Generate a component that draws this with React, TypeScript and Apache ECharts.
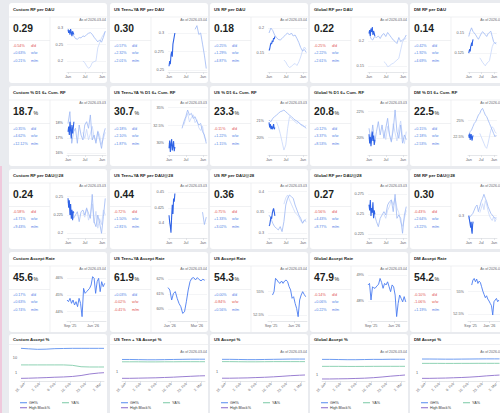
import React, { useEffect, useRef } from "react";
import * as echarts from "echarts";

const FONT = '"Liberation Sans", Arial, Helvetica, sans-serif';

const COL_X = [9, 110, 210, 310, 410];
const ROW_Y = [3, 86, 169, 252, 334];
const CARD_W = 98;
const CARD_H = [80, 80, 80, 80, 92];

// ---------- titles ----------
const TITLES_RF = ["Custom RF per DAU", "US Teen+YA RF per DAU", "US RF per DAU", "Global RF per DAU", "DM RF per DAU"];
const TITLES_CUM = ["Custom % D1 6+ Cum. RF", "US Teen+YA % D1 6+ Cum. RF", "US % D1 6+ Cum. RF", "Global % D1 6+ Cum. RF", "DM % D1 6+ Cum. RF"];
const TITLES_RF28 = ["Custom RF per DAU@28", "US Teen+YA RF per DAU@28", "US RF per DAU@28", "Global RF per DAU@28", "DM RF per DAU@28"];
const TITLES_ACC = ["Custom Accept Rate", "US Teen+YA Accept Rate", "US Accept Rate", "Global Accept Rate", "DM Accept Rate"];
const TITLES_PCT = ["Custom Accept %", "US Teen + YA Accept %", "US Accept %", "Global Accept %", "DM Accept %"];

// ---------- KPI values ----------
const VALUES_RF = ["0.29", "0.30", "0.18", "0.22", "0.14"];
const VALUES_CUM = ["18.7", "30.7", "23.3", "20.8", "22.5"];
const VALUES_RF28 = ["0.24", "0.44", "0.36", "0.27", "0.30"];
const VALUES_ACC = ["45.6", "61.9", "54.3", "47.9", "54.2"];

// [d/d, w/w, m/m] in %
const DELTAS_RF = [[-0.54, 0.63, 0.21], [0.57, 2.32, 2.01], [0.25, 1.29, 4.87], [-0.25, 2.22, 2.61], [0.42, 1.92, 4.69]];
const DELTAS_CUM = [[0.35, 4.62, 12.12], [0.18, 2.1, 1.87], [-0.11, 1.22, 1.15], [0.12, 3.37, 8.53], [0.15, 2.18, 2.53]];
const DELTAS_RF28 = [[-0.58, 4.71, 9.43], [-0.72, 1.5, 2.81], [-0.75, 1.33, 3.02], [-0.56, 4.43, 8.77], [-0.43, 2.64, 3.22]];
const DELTAS_ACC = [[0.17, 0.63, 0.74], [0.03, -0.02, -0.41], [0.0, -0.84, 0.56], [-0.14, 0.06, 0.22], [-0.1, -1.06, 1.19]];
const DELTA_LABELS = ["d/d", "w/w", "m/m"];

const AS_OF_RF = ["2026-03-04", "2026-03-04", "2026-03-04", "2026-03-04", "2026-03-04"];
const AS_OF_CUM = ["2026-03-03", "2026-03-03", "2026-03-03", "2026-03-03", "2026-03-03"];
const AS_OF_RF28 = ["2026-03-03", "2026-03-03", "2026-03-03", "2026-03-03", "2026-03-03"];
const AS_OF_ACC = ["2026-03-04", "2026-03-04", "2026-03-04", "2026-03-04", "2026-03-04"];
const AS_OF_PCT = ["", "2026-03-04", "2026-03-04", "2026-03-04", "2026-03-04"];

// ---------- sparkline axes ----------
const SPARK_X_TICKS = [0, 181, 365];
const SPARK_X_LABELS = ["Jan", "Jul", "Jan"];
const ACC_X_TICKS = [0, 122];
const ACC_X_LABELS = ["Sep '25", "Jan '26"];
const ACC_X_TICKS_TEEN = [0, 59];
const ACC_X_LABELS_TEEN = ["Jan '26", "Mar '26"];
const PCT_X_TICKS = [0, 7, 14, 21, 28, 35];
const PCT_X_LABELS = ["26. Jan", "2. Feb", "9. Feb", "16. Feb", "23. Feb", "2. Mar"];

const Y_RANGE_RF = [[0.1667, 0.3121], [0.2473, 0.3122], [0.112, 0.208], [0.138, 0.234], [0.1013, 0.1613]];
const Y_TICKS_RF = [[0.2, 0.25, 0.3], [0.25, 0.275, 0.3], [0.15, 0.2], [0.15, 0.2], [0.125, 0.15]];
const Y_RANGE_CUM = [[15.89, 19.09], [28.36, 35.1], [18.98, 21.81], [18.74, 22.35], [19.64, 27.14]];
const Y_TICKS_CUM = [[16, 17, 18], [30, 32.5, 35], [20, 21], [20, 22], [22.5, 25]];
const Y_RANGE_RF28 = [[0.1936, 0.2592], [0.3763, 0.4537], [0.2887, 0.404], [0.2204, 0.2804], [0.2628, 0.3428]];
const Y_TICKS_RF28 = [[0.2, 0.225, 0.25], [0.4, 0.425, 0.45], [0.3, 0.35, 0.4], [0.225, 0.25, 0.275], [0.3]];
const Y_RANGE_ACC = [[43.44, 46.32], [59.2, 62.42], [51.86, 57.0], [47.23, 49.08], [51.72, 57.1]];
const Y_TICKS_ACC = [[44, 45, 46], [60, 61, 62], [52.5, 55], [48, 49], [52.5, 55]];
const Y_RANGE_PCT = [[0.28, 70], [0.286, 9.5], [0.32, 9.5], [0.51, 9.5], [0.39, 9.5]];

// ---------- series data ----------
// cur: 2026 YTD, every 7 days from Jan 1; prev/old: every 20 days from Jan 1 (null = no data)
const N = null;
const RF_CUSTOM_CUR = [0.295, 0.285, 0.293, 0.28, 0.297, 0.287, 0.275, 0.29, 0.285, 0.28];
const RF_CUSTOM_PREV = [0.297, 0.29, 0.283, 0.277, 0.268, 0.266, 0.271, 0.27, 0.276, 0.274, 0.28, 0.284, 0.286, 0.281, 0.272, 0.265, 0.258, 0.264, 0.257, 0.272, 0.29];
const RF_CUSTOM_OLD = [N, N, N, N, N, N, N, N, 0.2, 0.195, 0.185, 0.178, 0.182, 0.195, 0.198, 0.2, 0.24, 0.255, 0.27, 0.28, 0.29];
const RF_TEEN_CUR = [0.255, 0.262, 0.258, 0.27, 0.275, 0.268, 0.285, 0.29, 0.295, 0.3];
const RF_TEEN_PREV = [N, N, N, N, N, N, N, N, N, N, N, N, N, N, 0.305, 0.31, 0.298, 0.3, 0.285, 0.27, 0.252];
const RF_TEEN_OLD: (number | null)[] = [];
const RF_US_CUR = [0.155, 0.158, 0.165, 0.17, 0.168, 0.175, 0.172, 0.18, 0.178, 0.183];
const RF_US_PREV = [0.19, 0.2, 0.195, 0.186, 0.181, 0.177, 0.176, 0.179, 0.183, 0.187, 0.19, 0.186, 0.19, 0.184, 0.186, 0.179, 0.171, 0.161, 0.154, 0.157, 0.151];
const RF_US_OLD = [N, N, N, N, N, N, N, N, 0.136, 0.132, 0.125, 0.121, 0.123, 0.127, 0.129, 0.125, 0.132, 0.142, 0.155, 0.162, 0.157];
const RF_GLOBAL_CUR = [0.215, 0.222, 0.21, 0.225, 0.218, 0.228, 0.212, 0.22, 0.215, 0.21];
const RF_GLOBAL_PREV = [0.219, 0.205, 0.202, 0.209, 0.207, 0.21, 0.205, 0.212, 0.215, 0.209, 0.217, 0.212, 0.207, 0.202, 0.199, 0.195, 0.207, 0.199, 0.202, 0.205, 0.212];
const RF_GLOBAL_OLD = [N, N, N, N, N, N, N, N, 0.1587, 0.1553, 0.1487, 0.15, 0.154, 0.1553, 0.1587, 0.162, 0.1653, 0.182, 0.1987, 0.2033, 0.2053];
const RF_DM_CUR = [0.125, 0.128, 0.13, 0.127, 0.133, 0.135, 0.138, 0.134, 0.14, 0.142];
const RF_DM_PREV = [0.1457, 0.1522, 0.1565, 0.1522, 0.15, 0.1478, 0.1448, 0.1422, 0.1457, 0.1491, 0.1517, 0.15, 0.1478, 0.1457, 0.1491, 0.1509, 0.1522, 0.1457, 0.1392, 0.137, 0.1379];
const RF_DM_OLD = [N, N, N, N, N, N, N, N, 0.119, 0.1164, 0.1134, 0.1112, 0.109, 0.1121, 0.1134, 0.1155, 0.1241, 0.1328, 0.137, 0.1379, 0.1362];

const CUM_CUSTOM_CUR = [17.44, 17.78, 17.22, 18.11, 17.56, 17.0, 17.89, 17.33, 17.67, 18.11];
const CUM_CUSTOM_PREV = [18.0, 18.78, 16.67, 17.44, 17.67, 16.67, 17.89, 17.22, 16.89, 17.89, 18.11, 17.67, 18.56, 16.89, 17.22, 16.67, 17.44, 16.89, 16.33, 17.22, 17.67];
const CUM_CUSTOM_OLD = [N, N, N, N, N, N, N, N, 17.4, 17.0, 17.6, 16.9, 17.3, 17.8, 17.1, 16.8, 17.5, 17.2, 16.6, 17.0, 17.4];
const CUM_TEEN_CUR = [29.3, 30.4, 28.8, 29.9, 30.6, 29.0, 29.6, 30.3, 28.9, 29.5];
const CUM_TEEN_PREV = [N, N, N, N, N, N, N, 32.1, 33.04, 33.74, 34.67, 33.97, 34.21, 33.5, 33.74, 33.04, 32.57, 32.8, 31.64, 31.17, 30.0];
const CUM_TEEN_OLD = [N, N, N, N, N, N, N, N, 32.6, 33.5, 34.2, 33.0, 33.6, 34.0, 32.9, 33.3, 32.2, 31.8, 32.4, 30.9, 30.4];
const CUM_US_CUR = [20.9, 20.6, 20.8, 20.5, 20.7, 20.5, 20.6, 20.8, 20.5, 20.6];
const CUM_US_PREV = [21.04, 20.94, 21.14, 21.24, 21.33, 21.43, 21.53, 21.57, 21.63, 21.53, 21.43, 21.33, 21.24, 21.14, 21.04, 20.98, 20.9, 20.78, 20.71, 20.65, 20.55];
const CUM_US_OLD = [N, N, N, N, 20.94, 20.65, 20.25, 19.76, 19.27, 19.57, 20.55, 21.24, 21.14, 21.04, 20.94, 20.84, 20.9, 20.78, 20.75, 20.65, 20.71];
const CUM_GLOBAL_CUR = [20.3, 19.6, 20.1, 19.4, 20.0, 20.5, 19.8, 20.2, 19.5, 19.9];
const CUM_GLOBAL_PREV = [20.75, 19.88, 21.0, 19.63, 20.5, 21.25, 20.25, 21.0, 20.0, 20.75, 21.5, 20.25, 19.75, 20.63, 22.13, 20.5, 20.0, 21.0, 19.63, 20.25, 19.88];
const CUM_GLOBAL_OLD = [N, N, N, N, N, N, N, N, 20.6, 19.9, 20.9, 20.3, 19.7, 21.1, 20.4, 19.8, 20.7, 21.3, 20.1, 19.6, 20.5];
const CUM_DM_CUR = [22.8, 22.3, 23.0, 22.0, 22.6, 22.9, 22.2, 21.9, 22.5, 22.7];
const CUM_DM_PREV = [22.76, 23.28, 23.54, 24.06, 24.58, 24.84, 25.36, 25.89, 26.15, 26.67, 26.93, 26.41, 25.89, 25.63, 25.1, 24.58, 24.06, 23.54, 23.02, 22.5, 22.76];
const CUM_DM_OLD = [N, N, N, N, N, N, N, N, 23.02, 22.5, 21.98, 21.46, 20.94, 20.68, 21.46, 22.5, 23.54, 24.06, 23.8, 23.28, 23.02];

const RF28_CUSTOM_CUR = [0.248, 0.235, 0.245, 0.225, 0.24, 0.22, 0.232, 0.218, 0.23, 0.228];
const RF28_CUSTOM_PREV = [0.2432, 0.2341, 0.2273, 0.2205, 0.225, 0.2295, 0.2159, 0.2295, 0.2318, 0.225, 0.2341, 0.2273, 0.2205, 0.2532, 0.2159, 0.2091, 0.225, 0.2136, 0.2, 0.2227, 0.2477];
const RF28_CUSTOM_OLD = [N, N, N, N, N, N, N, N, 0.228, 0.222, 0.235, 0.218, 0.226, 0.24, 0.214, 0.23, 0.207, 0.22, 0.212, 0.232, 0.225];
const RF28_TEEN_CUR = [0.413, 0.402, 0.395, 0.385, 0.41, 0.43, 0.415, 0.44, 0.435, 0.448];
const RF28_TEEN_PREV = [N, N, N, N, N, N, N, N, N, N, N, N, N, N, N, N, N, N, 0.418, 0.398, 0.41];
const RF28_TEEN_OLD: (number | null)[] = [];
const RF28_US_CUR = [0.318, 0.32, 0.33, 0.34, 0.335, 0.348, 0.355, 0.36, 0.352, 0.342];
const RF28_US_PREV = [0.344, 0.336, 0.324, 0.316, 0.312, 0.308, 0.316, 0.304, 0.328, 0.368, 0.384, 0.392, 0.388, 0.384, 0.368, 0.356, 0.344, 0.336, 0.324, 0.332, 0.328];
const RF28_US_OLD = [N, N, N, N, N, N, N, N, 0.37, 0.385, 0.392, 0.38, 0.37, 0.36, 0.35, 0.345, 0.34, 0.33, 0.325, 0.33, 0.335];
const RF28_GLOBAL_CUR = [0.262, 0.255, 0.268, 0.248, 0.258, 0.252, 0.265, 0.245, 0.255, 0.25];
const RF28_GLOBAL_PREV = [0.2617, 0.2575, 0.2533, 0.2492, 0.2408, 0.2346, 0.245, 0.2492, 0.2533, 0.2492, 0.2617, 0.2658, 0.2679, 0.2533, 0.275, 0.245, 0.2492, 0.245, 0.2263, 0.2492, 0.2596];
const RF28_GLOBAL_OLD = [N, N, N, N, N, N, N, N, 0.25, 0.245, 0.255, 0.26, 0.268, 0.262, 0.27, 0.258, 0.252, 0.24, 0.235, 0.245, 0.255];
const RF28_DM_CUR = [0.3, 0.295, 0.29, 0.285, 0.28, 0.29, 0.275, 0.27, 0.285, 0.29];
const RF28_DM_PREV = [0.2956, 0.2983, 0.3011, 0.3039, 0.3094, 0.315, 0.3178, 0.3067, 0.315, 0.3233, 0.3289, 0.3356, 0.3289, 0.3233, 0.315, 0.3094, 0.3039, 0.3011, 0.2983, 0.2956, 0.2967];
const RF28_DM_OLD = [N, N, N, N, N, N, N, N, 0.305, 0.312, 0.32, 0.31, 0.325, 0.318, 0.308, 0.3, 0.295, 0.292, 0.298, 0.29, 0.295];

// Accept rate: [start day, step days] and values (day 0 = Sep 1 2025; teen: day 0 = Jan 1 2026)
const ACC_CUSTOM = [44.7, 44.6, 44.8, 44.5, 44.7, 44.4, 44.6, 44.3, 44.8, 44.5, 43.7, 45.4, 45.1, 45.2, 45.3, 45.4, 45.6, 46.1, 46.0, 45.1, 45.8, 46.0, 45.2, 45.8, 45.5, 45.7];
const ACC_TEEN = [61.44, 61.28, 60.61, 61.06, 61.17, 60.72, 60.38, 60.16, 59.71, 59.82, 60.49, 61.28, 61.84, 62.07, 62.11, 61.96, 62.11, 61.98, 61.89, 62.0, 61.93];
const ACC_US = [54.64, 55.0, 56.43, 56.25, 56.0, 55.89, 56.14, 55.89, 56.14, 56.25, 56.07, 55.54, 55.18, 54.29, 54.46, 53.75, 53.21, 52.32, 54.11, 54.64, 55.0, 54.71, 54.46];
const ACC_GLOBAL = [48.62, 48.68, 48.04, 48.55, 48.49, 48.51, 48.59, 48.64, 48.87, 48.72, 48.49, 48.68, 48.62, 48.74, 48.55, 48.36, 48.62, 48.55, 48.23, 47.4, 47.91, 48.23, 48.1, 47.97, 48.17, 47.97];
const ACC_DM = [55.75, 56.31, 56.49, 56.12, 56.42, 55.93, 56.19, 56.04, 55.56, 55.07, 54.7, 54.33, 54.55, 54.18, 53.96, 53.69, 53.43, 52.39, 53.88, 54.07, 54.25, 53.88, 54.07];
const ACC_START = [-16, -4, 8, -16, 8];
const ACC_STEP = [8, 4, 8, 8, 8];

// Accept % (days from 26 Jan 2026)
const PCT_DAYS = [-1.5, 2, 6, 10, 14, 18, 22, 26, 30, 34, 36.5];
const PCT_NAMES = ["GH%", "YA%", "High Block%"];
const PCT_COLORS = ["#6f9df2", "#8fd2b4", "#9a7fd2"];
const GH_PCT = [
  [42, 39, 36, 37, 40, 41, 42, 42, 42, 42, 42],
  [5.2, 5.2, 5.1, 5.0, 5.0, 5.1, 5.2, 5.3, 5.4, 5.4, 5.4],
  [5.4, 5.4, 5.3, 5.2, 5.2, 5.3, 5.4, 5.5, 5.6, 5.6, 5.6],
  [5.8, 5.8, 5.7, 5.6, 5.6, 5.7, 5.8, 5.8, 5.9, 5.9, 5.9],
  [5.8, 5.8, 5.75, 5.7, 5.7, 5.75, 5.8, 5.85, 5.9, 5.9, 5.9],
];
const YA_PCT = [
  [3.3, 3.3, 3.3, 3.3, 3.3, 3.3, 3.1, 2.5, 2.4, 2.4, 2.4],
  [3.8, 3.8, 3.8, 3.75, 3.75, 3.8, 3.8, 3.85, 3.85, 3.85, 3.85],
  [4.0, 4.0, 3.95, 3.9, 3.9, 3.95, 4.0, 4.0, 4.0, 4.0, 4.0],
  [2.65, 2.65, 2.65, 2.62, 2.62, 2.63, 2.65, 2.66, 2.66, 2.66, 2.66],
  [3.4, 3.4, 3.4, 3.38, 3.38, 3.4, 3.4, 3.42, 3.42, 3.42, 3.42],
];
const HB_PCT = [
  [0.42, 0.43, 0.45, 0.47, 0.5, 0.52, 0.56, 0.65, 0.82, 0.95, 1.0],
  [0.41, 0.41, 0.42, 0.43, 0.44, 0.46, 0.48, 0.51, 0.54, 0.57, 0.58],
  [0.46, 0.46, 0.47, 0.48, 0.5, 0.52, 0.55, 0.59, 0.64, 0.68, 0.7],
  [0.64, 0.64, 0.65, 0.66, 0.68, 0.7, 0.74, 0.8, 0.88, 0.95, 1.0],
  [0.54, 0.54, 0.55, 0.56, 0.58, 0.6, 0.63, 0.67, 0.73, 0.78, 0.81],
];

const SPARK_ROWS = [
  { titles: TITLES_RF, values: VALUES_RF, deltas: DELTAS_RF, asOf: AS_OF_RF, range: Y_RANGE_RF, ticks: Y_TICKS_RF, pct: false,
    data: [[RF_CUSTOM_CUR, RF_CUSTOM_PREV, RF_CUSTOM_OLD], [RF_TEEN_CUR, RF_TEEN_PREV, RF_TEEN_OLD], [RF_US_CUR, RF_US_PREV, RF_US_OLD], [RF_GLOBAL_CUR, RF_GLOBAL_PREV, RF_GLOBAL_OLD], [RF_DM_CUR, RF_DM_PREV, RF_DM_OLD]] },
  { titles: TITLES_CUM, values: VALUES_CUM, deltas: DELTAS_CUM, asOf: AS_OF_CUM, range: Y_RANGE_CUM, ticks: Y_TICKS_CUM, pct: true,
    data: [[CUM_CUSTOM_CUR, CUM_CUSTOM_PREV, CUM_CUSTOM_OLD], [CUM_TEEN_CUR, CUM_TEEN_PREV, CUM_TEEN_OLD], [CUM_US_CUR, CUM_US_PREV, CUM_US_OLD], [CUM_GLOBAL_CUR, CUM_GLOBAL_PREV, CUM_GLOBAL_OLD], [CUM_DM_CUR, CUM_DM_PREV, CUM_DM_OLD]] },
  { titles: TITLES_RF28, values: VALUES_RF28, deltas: DELTAS_RF28, asOf: AS_OF_RF28, range: Y_RANGE_RF28, ticks: Y_TICKS_RF28, pct: false,
    data: [[RF28_CUSTOM_CUR, RF28_CUSTOM_PREV, RF28_CUSTOM_OLD], [RF28_TEEN_CUR, RF28_TEEN_PREV, RF28_TEEN_OLD], [RF28_US_CUR, RF28_US_PREV, RF28_US_OLD], [RF28_GLOBAL_CUR, RF28_GLOBAL_PREV, RF28_GLOBAL_OLD], [RF28_DM_CUR, RF28_DM_PREV, RF28_DM_OLD]] },
];
const ACC_DATA = [ACC_CUSTOM, ACC_TEEN, ACC_US, ACC_GLOBAL, ACC_DM];

const C_TEXT = "#1d1f23";
const C_MUTED = "#5f646b";
const C_RED = "#e0524d";
const C_BLUE = "#4f7fe6";
const C_DIV = "#e5e7eb";
const C_AXIS = "#d3d6dc";

function fmtNum(v: number) {
  return String(parseFloat(Number(v).toFixed(4)));
}
function fmtDelta(v: number) {
  return (v >= 0 ? "+" : "") + v.toFixed(2) + "%";
}
function pts(arr: (number | null)[], start: number, step: number) {
  const out: [number, number][] = [];
  arr.forEach((v, i) => {
    if (v !== null && v !== undefined) out.push([start + i * step, v]);
  });
  return out;
}

function buildOption() {
  const grids: any[] = [];
  const xAxes: any[] = [];
  const yAxes: any[] = [];
  const series: any[] = [];
  const els: any[] = [];
  const labelBase = { fontSize: 3.8, color: C_MUTED, fontFamily: FONT };

  const text = (x: number, y: number, t: string, o: any = {}) =>
    els.push({ type: "text", x, y, z: 10, silent: true, style: { text: t, fontFamily: FONT, fontSize: 3.8, fill: C_TEXT, align: "left", verticalAlign: "middle", ...o } });
  const line = (x1: number, y1: number, x2: number, y2: number, color = C_DIV, w = 0.6) =>
    els.push({ type: "line", z: 10, silent: true, shape: { x1, y1, x2, y2 }, style: { stroke: color, lineWidth: w } });

  // pink strip at left
  els.push({ type: "rect", z: -20, silent: true, shape: { x: 0, y: 166, width: 2, height: 250 }, style: { fill: "#efc9dc" } });

  const addCardFrame = (r: number, c: number, title: string) => {
    const cx = COL_X[c];
    const cy = ROW_Y[r];
    els.push({ type: "rect", z: -10, silent: true, shape: { x: cx, y: cy, width: CARD_W, height: CARD_H[r], r: 3 }, style: { fill: "#ffffff" } });
    text(cx + 4, cy + (r === 4 ? 5.5 : 6.5), title, { fontSize: 4.3, fontWeight: "bold" });
  };

  const addKpi = (r: number, c: number, value: string, pct: boolean, deltas: number[], asOf: string) => {
    const cx = COL_X[c];
    const cy = ROW_Y[r];
    line(cx, cy + 14, cx + CARD_W, cy + 14);
    line(cx + 41, cy + 14, cx + 41, cy + 80);
    line(cx, cy + 37.5, cx + 41, cy + 37.5);
    els.push({
      type: "text", x: cx + 4, y: cy + 24, z: 10, silent: true,
      style: {
        text: pct ? `{v|${value}}{u|%}` : `{v|${value}}`,
        align: "left", verticalAlign: "middle",
        rich: {
          v: { fontFamily: FONT, fontSize: 10.3, fontWeight: "bold", fill: C_TEXT, lineHeight: 12, verticalAlign: "bottom" },
          u: { fontFamily: FONT, fontSize: 5.2, fill: C_TEXT, lineHeight: 12, verticalAlign: "bottom", padding: [0, 0, 1, 0.5] },
        },
      },
    });
    const ys = [43, 50, 57.5];
    deltas.forEach((d, i) => {
      const col = d >= 0 ? C_BLUE : C_RED;
      text(cx + 4, cy + ys[i], fmtDelta(d), { fontSize: 3.7, fill: col });
      text(cx + 22, cy + ys[i], DELTA_LABELS[i], { fontSize: 3.7, fill: col });
    });
    if (asOf) text(cx + 97, cy + 17, "As of " + asOf, { fontSize: 3.5, fill: C_MUTED, align: "right" });
  };

  const addSparkAxes = (gi: number, r: number, c: number, xMin: number, xMax: number, xTicks: number[], xLabels: string[], yMin: number, yMax: number, yTicks: number[], pct: boolean) => {
    grids.push({ left: COL_X[c] + 58, top: ROW_Y[r] + 21, width: 39, height: 48 });
    xAxes.push({
      type: "value", gridIndex: gi, min: xMin, max: xMax,
      axisLine: { show: true, lineStyle: { color: C_AXIS, width: 0.6 } },
      axisTick: { show: true, customValues: xTicks, length: 2, lineStyle: { color: C_AXIS, width: 0.6 } },
      splitLine: { show: false },
      axisLabel: { ...labelBase, customValues: xTicks, margin: 3, formatter: (v: number) => { const k = xTicks.indexOf(v); return k >= 0 ? xLabels[k] : ""; } },
    });
    yAxes.push({
      type: "value", gridIndex: gi, min: yMin, max: yMax,
      axisLine: { show: false },
      axisTick: { show: false, customValues: yTicks },
      splitLine: { show: true, lineStyle: { color: "#eceef2", width: 0.6 } },
      axisLabel: { ...labelBase, customValues: yTicks, margin: 4, formatter: (v: number) => fmtNum(v) + (pct ? "%" : "") },
    });
  };

  let gi = 0;
  // rows 1-3: sparklines
  SPARK_ROWS.forEach((row, r) => {
    for (let c = 0; c < 5; c++) {
      addCardFrame(r, c, row.titles[c]);
      addKpi(r, c, row.values[c], row.pct, row.deltas[c], row.asOf[c]);
      addSparkAxes(gi, r, c, -11, 408, SPARK_X_TICKS, SPARK_X_LABELS, row.range[c][0], row.range[c][1], row.ticks[c], row.pct);
      const [cur, prev, old] = row.data[c];
      const base = { type: "line", xAxisIndex: gi, yAxisIndex: gi, showSymbol: false, symbol: "none", silent: true };
      if (old.length) series.push({ ...base, data: pts(old, 0, 20), lineStyle: { color: "#c8d7fa", width: 0.8 }, z: 2 });
      series.push({ ...base, data: pts(prev, 0, 20), lineStyle: { color: "#9db8f4", width: 0.8 }, z: 3 });
      series.push({ ...base, data: pts(cur, 0, 7), lineStyle: { color: "#2f63e6", width: 1.1 }, z: 4 });
      gi++;
    }
  });

  // row 4: accept rate
  for (let c = 0; c < 5; c++) {
    const r = 3;
    addCardFrame(r, c, TITLES_ACC[c]);
    addKpi(r, c, VALUES_ACC[c], true, DELTAS_ACC[c], AS_OF_ACC[c]);
    const teen = c === 1;
    addSparkAxes(gi, r, c, teen ? -4 : -16, teen ? 81 : 191, teen ? ACC_X_TICKS_TEEN : ACC_X_TICKS, teen ? ACC_X_LABELS_TEEN : ACC_X_LABELS, Y_RANGE_ACC[c][0], Y_RANGE_ACC[c][1], Y_TICKS_ACC[c], true);
    series.push({ type: "line", xAxisIndex: gi, yAxisIndex: gi, showSymbol: false, symbol: "none", silent: true, data: pts(ACC_DATA[c], ACC_START[c], ACC_STEP[c]), lineStyle: { color: "#4a7cf0", width: 0.9 }, z: 3 });
    gi++;
  }

  // row 5: accept %
  for (let c = 0; c < 5; c++) {
    const r = 4;
    const cx = COL_X[c];
    const cy = ROW_Y[r];
    addCardFrame(r, c, TITLES_PCT[c]);
    line(cx, cy + 10.5, cx + CARD_W, cy + 10.5);
    if (AS_OF_PCT[c]) text(cx + 97, cy + 18, "As of " + AS_OF_PCT[c], { fontSize: 3.5, fill: C_MUTED, align: "right" });
    const top = cy + (c === 0 ? 11 : 21);
    grids.push({ left: cx + 12, top, width: 83, height: cy + 47 - top });
    xAxes.push({
      type: "value", gridIndex: gi, min: -1.5, max: 36.5,
      axisLine: { show: true, lineStyle: { color: C_AXIS, width: 0.6 } },
      axisTick: { show: true, customValues: PCT_X_TICKS, length: 2, lineStyle: { color: C_AXIS, width: 0.6 } },
      splitLine: { show: false },
      axisLabel: { ...labelBase, fontSize: 3.6, customValues: PCT_X_TICKS, rotate: 45, margin: 2.5, formatter: (v: number) => { const k = PCT_X_TICKS.indexOf(v); return k >= 0 ? PCT_X_LABELS[k] : ""; } },
    });
    yAxes.push({
      type: "log", logBase: 10, gridIndex: gi, min: Y_RANGE_PCT[c][0], max: Y_RANGE_PCT[c][1],
      axisLine: { show: false }, axisTick: { show: false }, splitLine: { show: false },
      axisLabel: { ...labelBase, margin: 4, formatter: (v: number) => { const l = Math.log10(v); return Math.abs(l - Math.round(l)) < 1e-6 ? String(Math.round(v)) : ""; } },
    });
    const sets = [GH_PCT[c], YA_PCT[c], HB_PCT[c]];
    sets.forEach((vals, k) => {
      series.push({ type: "line", name: PCT_NAMES[k], xAxisIndex: gi, yAxisIndex: gi, showSymbol: false, symbol: "none", silent: true, data: vals.map((v, i) => [PCT_DAYS[i], v]), lineStyle: { color: PCT_COLORS[k], width: 1 }, z: 3 });
    });
    // legend
    const ly1 = cy + 68.7;
    const ly2 = cy + 73.7;
    const legendItems = [
      { x: cx + 11, y: ly1, k: 0 },
      { x: cx + 53, y: ly1, k: 1 },
      { x: cx + 11, y: ly2, k: 2 },
    ];
    legendItems.forEach((it) => {
      line(it.x, it.y, it.x + 7, it.y, PCT_COLORS[it.k], 1.2);
      text(it.x + 9, it.y, PCT_NAMES[it.k], { fontSize: 3.7, fill: "#333" });
    });
    gi++;
  }

  return {
    animation: false,
    backgroundColor: "#e9ebef",
    textStyle: { fontFamily: FONT },
    grid: grids,
    xAxis: xAxes,
    yAxis: yAxes,
    series,
    graphic: { elements: els },
  };
}

export default function App() {
  const ref = useRef<HTMLDivElement>(null);
  useEffect(() => {
    if (!ref.current) return;
    const chart = echarts.init(ref.current, null, { renderer: "svg" });
    chart.setOption(buildOption() as any);
    return () => chart.dispose();
  }, []);
  return <div ref={ref} style={{ position: "fixed", left: 0, top: 0, width: 500, height: 413 }} />;
}
